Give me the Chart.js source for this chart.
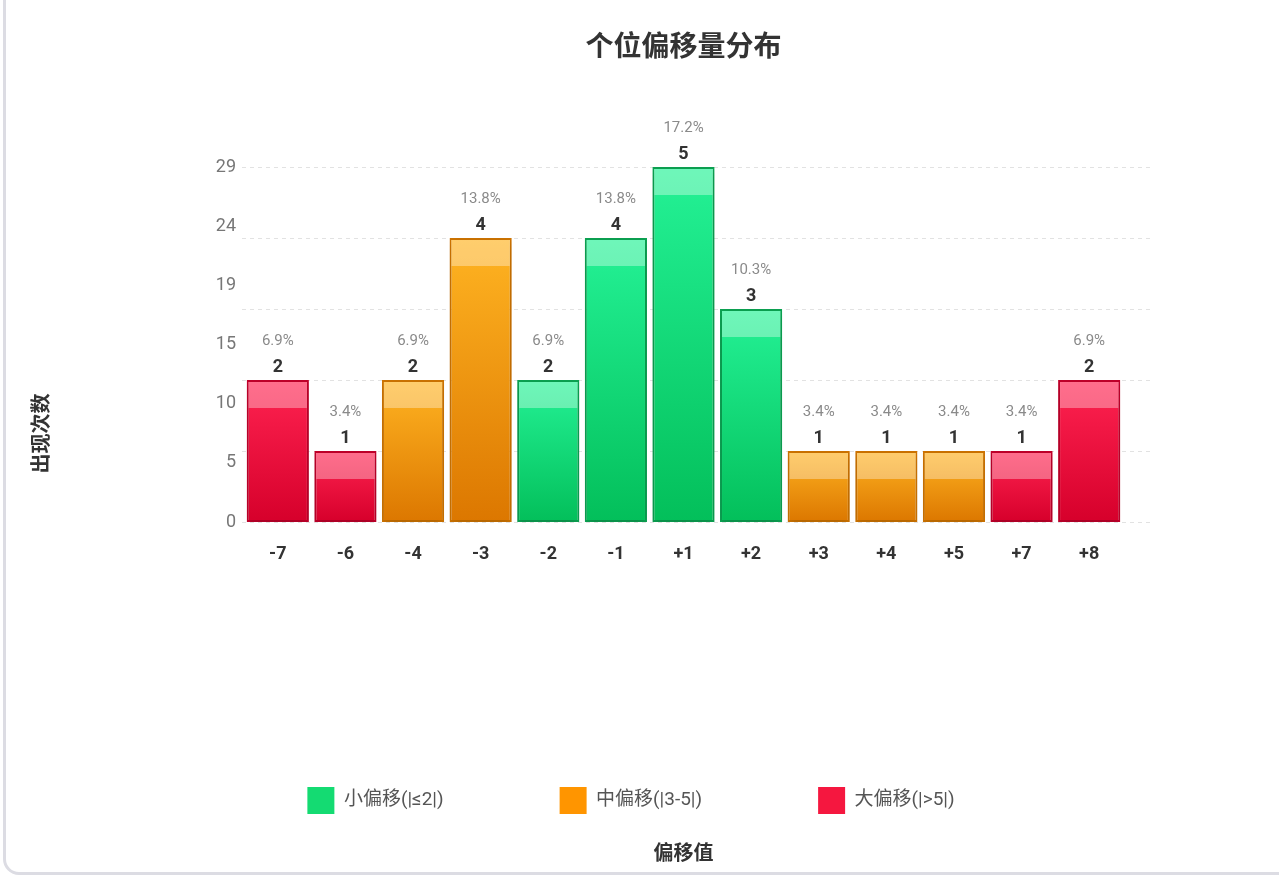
<!DOCTYPE html>
<html>
<head>
<meta charset="utf-8">
<script src="https://cdn.jsdelivr.net/npm/chart.js@4.4.1/dist/chart.umd.min.js"></script>
<style>
  html, body { margin: 0; padding: 0; background: #ffffff; overflow: hidden; }
  #card { position: absolute; left: 3px; top: -30px; width: 1320px; height: 905px;
          border: 3px solid #dcdce3; border-radius: 16px; box-sizing: border-box; background: #fff; }
  #wrap { position: absolute; left: 10px; top: 0px; width: 1242px; height: 867px; }
</style>
</head>
<body>
<div id="card"></div>
<div id="wrap"><canvas id="c"></canvas></div>
<script>
// ---- data ----
const categories = ['-7', '-6', '-4', '-3', '-2', '-1', '+1', '+2', '+3', '+4', '+5', '+7', '+8'];
const counts     = [2, 1, 2, 4, 2, 4, 5, 3, 1, 1, 1, 1, 2];
const groupOf    = ['L', 'L', 'M', 'M', 'S', 'S', 'S', 'S', 'M', 'M', 'M', 'L', 'L'];
const groupKeys  = ['S', 'M', 'L'];
const groupNames = ['小偏移(|≤2|)', '中偏移(|3-5|)', '大偏移(|>5|)'];
const yTickLabels = ['0', '5', '10', '15', '19', '24', '29'];
const chartTitle = '个位偏移量分布';
const yTitle = '出现次数';
const xTitle = '偏移值';

// ---- styles ----
const FONT = "Roboto, 'Noto Sans CJK SC', sans-serif";
const solid   = { S: '#14db72', M: '#ff9500', L: '#f5173f' };
const gradTop = { S: '#24f296', M: '#ffb422', L: '#ff2351' };
const gradBot = { S: '#03bf5a', M: '#dc7700', L: '#d6002b' };
const border  = { S: '#0ba352', M: '#cf7400', L: '#c2002a' };

const total = counts.reduce((a, b) => a + b, 0);
const maxCount = Math.max(...counts);
const LEGEND_PAD = 116;

const datasets = groupKeys.map((k, gi) => ({
  label: groupNames[gi],
  data: counts.map((v, i) => groupOf[i] === k ? v : null),
  yAxisID: 'y',
  xAxisID: 'x',
  grouped: false,
  categoryPercentage: 1,
  barPercentage: 0.92,
  borderWidth: 2,
  borderSkipped: false,
  borderColor: border[k],
  backgroundColor: (ctx) => {
    if (ctx.type !== 'data' || ctx.raw == null) return solid[k];
    const chart = ctx.chart;
    const ys = chart.scales.y;
    if (!ys || !chart.chartArea) return solid[k];
    const top = ys.getPixelForValue(ctx.raw);
    const bot = ys.getPixelForValue(0);
    if (!isFinite(top) || !isFinite(bot) || top === bot) return solid[k];
    const g = chart.ctx.createLinearGradient(0, top, 0, bot);
    g.addColorStop(0, gradTop[k]);
    g.addColorStop(1, gradBot[k]);
    return g;
  }
}));

const barFx = {
  id: 'barFx',
  beforeDatasetsDraw(chart) {
    const ctx = chart.ctx, ys = chart.scales.y, a = chart.chartArea;
    ctx.save();
    ctx.strokeStyle = '#e2e2e2';
    ctx.lineWidth = 1;
    ctx.setLineDash([4, 4]);
    ys.ticks.forEach(t => {
      const y = Math.round(ys.getPixelForValue(t.value)) + 0.5;
      ctx.beginPath();
      ctx.moveTo(a.left - 2, y);
      ctx.lineTo(a.right + 27, y);
      ctx.stroke();
    });
    ctx.restore();
    ctx.save();
    ctx.shadowColor = 'rgba(0,0,0,0.16)';
    ctx.shadowBlur = 9;
    ctx.shadowOffsetY = 3;
  },
  afterDatasetsDraw(chart) {
    const ctx = chart.ctx;
    ctx.restore();
    ctx.save();
    chart.data.datasets.forEach((ds, di) => {
      const meta = chart.getDatasetMeta(di);
      meta.data.forEach((el, i) => {
        const v = ds.data[i];
        if (v == null) return;
        const p = el.getProps(['x', 'y', 'base', 'width'], true);
        // glossy top band
        const h = Math.min(26, p.base - p.y - 3);
        ctx.fillStyle = 'rgba(255,255,255,0.34)';
        ctx.fillRect(p.x - p.width / 2 + 2, p.y + 2, p.width - 4, h);
        // labels
        ctx.textAlign = 'center';
        ctx.textBaseline = 'middle';
        ctx.fillStyle = '#333333';
        ctx.font = 'bold 18px ' + FONT;
        ctx.fillText(String(v), p.x, p.y - 13);
        ctx.fillStyle = '#8a8a8a';
        ctx.font = '15px ' + FONT;
        ctx.fillText((v / total * 100).toFixed(1) + '%', p.x, p.y - 39);
      });
    });
    ctx.restore();
  }
};

new Chart(document.getElementById('c'), {
  type: 'bar',
  data: { labels: categories, datasets },
  plugins: [barFx],
  options: {
    responsive: true,
    maintainAspectRatio: false,
    animation: false,
    layout: { padding: 0 },
    plugins: {
      title: {
        display: true,
        text: chartTitle,
        position: 'top',
        fullSize: false,
        color: '#333333',
        font: { family: FONT, size: 28, weight: 'bold' },
        padding: { top: 32, bottom: 101.4 }
      },
      subtitle: {
        display: true,
        text: yTitle,
        position: 'left',
        fullSize: true,
        color: '#333333',
        font: { family: FONT, size: 20, weight: 'bold' },
        padding: { top: 21, bottom: 9 }
      },
      legend: {
        display: true,
        position: 'bottom',
        labels: {
          boxWidth: 27,
          boxHeight: 27,
          padding: LEGEND_PAD,
          color: '#555555',
          font: { family: FONT, size: 19 },
          generateLabels(chart) {
            const items = Chart.defaults.plugins.legend.labels.generateLabels(chart);
            items.forEach((it, i) => {
              const k = groupKeys[i];
              it.fillStyle = solid[k];
              it.strokeStyle = solid[k];
              it.lineWidth = 0;
            });
            return items;
          }
        }
      },
      tooltip: { enabled: false }
    },
    scales: {
      x: {
        position: 'bottom',
        grid: { display: false, drawTicks: false },
        border: { display: false },
        ticks: {
          color: '#333333',
          padding: 22,
          font: { family: FONT, size: 18, weight: 'bold' }
        },
        afterFit(scale) { scale.height = 265 - LEGEND_PAD; }
      },
      xTitleAxis: {
        type: 'category',
        position: 'bottom',
        weight: 2000,
        grid: { display: false, drawTicks: false },
        border: { display: false },
        ticks: { display: false },
        title: {
          display: true,
          text: xTitle,
          color: '#333333',
          font: { family: FONT, size: 20, weight: 'bold' },
          padding: { top: 19, bottom: 0 }
        }
      },
      y: {
        position: 'left',
        min: 0,
        max: maxCount,
        grid: { display: false, drawTicks: false },
        border: { display: false },
        ticks: { display: false, stepSize: 1 },
        afterFit(scale) { scale.width = 0; }
      },
      yLabels: {
        position: 'left',
        min: 0,
        max: total,
        grid: { display: false, drawTicks: false },
        border: { display: false },
        ticks: {
          count: yTickLabels.length,
          color: '#777777',
          padding: 8,
          font: { family: FONT, size: 18 },
          callback: (v, i) => yTickLabels[i]
        },
        afterFit(scale) { scale.width = 180; }
      },
      yRight: {
        position: 'right',
        min: 0,
        max: maxCount,
        grid: { display: false, drawTicks: false },
        border: { display: false },
        ticks: { display: false },
        afterFit(scale) { scale.width = 129; }
      }
    }
  }
});
</script>
</body>
</html>
